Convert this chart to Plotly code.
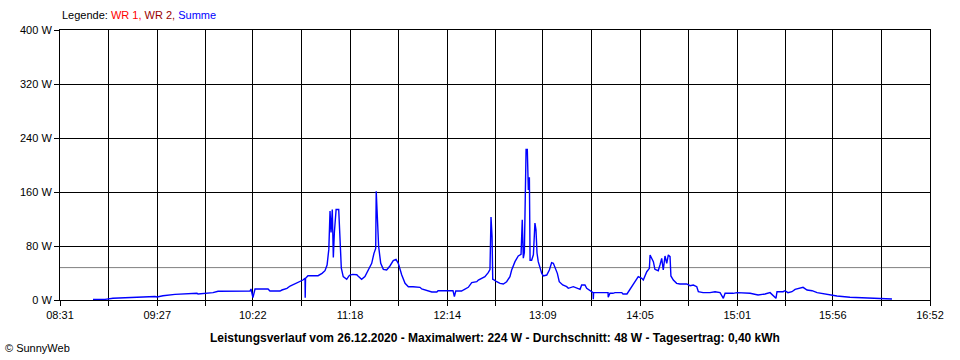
import plotly.graph_objects as go

# --- data (minutes since midnight, watts) ---
summe_min = [
    530.0, 536.9, 541.5, 551.3, 561.1, 565.7, 566.9, 570.3, 577.2, 581.3, 585.9, 589.9, 590.5, 596.2,
    599.1, 602.0, 620.4, 621.0, 622.1, 623.3, 630.8, 631.9, 637.7, 638.8, 641.7, 643.5, 646.3, 649.2,
    650.9, 652.1, 652.2, 652.4, 653.8, 659.6, 661.9, 663.6, 664.8, 665.8, 666.5, 667.1, 667.8, 668.4,
    669.0, 670.0, 671.5, 672.2, 672.6, 673.0, 674.1, 676.1, 677.4, 678.0, 679.5, 681.9, 682.6, 684.7,
    686.6, 688.4, 690.5, 691.8, 692.8, 693.1, 693.7, 694.5, 695.7, 697.2, 699.1, 701.0, 702.9, 704.5,
    705.8, 707.8, 709.7, 711.6, 714.3, 718.3, 719.3, 721.2, 723.1, 725.1, 728.0, 728.7, 737.3, 738.1,
    738.9, 742.3, 743.2, 746.1, 748.1, 751.0, 751.9, 753.8, 755.7, 757.6, 758.6, 759.2, 759.8, 760.2,
    760.5, 762.5, 764.4, 766.3, 768.2, 770.1, 771.1, 773.0, 774.9, 776.5, 777.0, 777.2, 777.8, 778.4,
    779.4, 780.1, 780.7, 781.3, 781.7, 782.6, 783.6, 784.5, 785.1, 785.7, 786.4, 787.4, 788.4, 789.3,
    791.3, 792.8, 794.1, 795.1, 796.1, 797.4, 798.5, 800.5, 802.8, 803.7, 806.6, 810.5, 811.4, 813.3,
    814.3, 815.8, 816.2, 818.0, 818.1, 818.3, 819.1, 826.6, 826.7, 827.7, 829.4, 830.6, 834.5, 835.2,
    837.5, 838.3, 840.2, 842.1, 844.0, 846.0, 846.9, 848.9, 850.4, 850.8, 851.7, 852.7, 853.6, 855.5,
    856.5, 857.5, 858.4, 859.4, 860.4, 861.3, 862.3, 862.8, 864.2, 866.1, 868.0, 871.9, 873.8, 875.7,
    877.7, 878.6, 881.3, 885.3, 888.2, 891.1, 893.0, 894.0, 898.6, 900.9, 908.4, 911.2, 913.0, 917.0,
    919.9, 923.3, 923.9, 927.4, 928.5, 930.2, 932.5, 934.3, 936.0, 938.9, 941.2, 944.1, 947.0, 951.5,
    955.6, 958.4, 965.9, 977.5, 985.0, 990.1,
]
summe_w = [
    1.0, 1.0, 2.5, 4.0, 5.2, 5.2, 4.5, 6.3, 8.4, 8.9, 9.9, 9.9, 8.9, 9.9,
    10.9, 12.9, 13.3, 16.3, 3.5, 16.3, 16.3, 13.3, 13.3, 14.8, 17.3, 20.7, 23.7, 27.1,
    29.6, 32.1, 3.5, 32.1, 36.0, 36.0, 39.5, 43.4, 51.9, 75.0, 131.8, 100.0, 134.0, 63.0,
    100.0, 134.0, 134.0, 100.0, 74.0, 47.0, 34.6, 30.6, 35.6, 37.0, 38.0, 37.5, 35.6, 30.6,
    34.6, 44.4, 54.3, 69.1, 76.5, 161.0, 134.0, 79.0, 54.3, 45.4, 44.4, 50.4, 58.3, 60.3,
    54.3, 37.0, 24.7, 19.7, 19.7, 18.8, 16.3, 14.8, 13.3, 11.9, 11.9, 13.8, 13.8, 4.9,
    13.3, 13.3, 14.8, 18.8, 25.7, 27.1, 29.6, 32.1, 34.6, 40.5, 45.0, 123.0, 94.0, 30.0,
    30.6, 27.1, 24.7, 23.7, 27.1, 34.6, 44.4, 56.8, 65.2, 67.7, 112.0, 119.0, 62.0, 70.0,
    223.0, 223.0, 163.0, 182.0, 59.0, 59.0, 67.0, 114.0, 104.0, 69.6, 56.8, 47.0, 39.5, 35.6,
    37.0, 44.4, 55.3, 54.3, 47.0, 39.5, 27.1, 22.2, 19.7, 17.3, 19.7, 15.8, 22.2, 22.2,
    17.3, 14.8, 13.3, 11.0, 1.0, 11.0, 10.9, 10.9, 4.0, 9.9, 9.9, 10.9, 10.9, 8.9,
    8.9, 12.3, 19.7, 27.1, 34.6, 32.1, 29.6, 41.9, 46.9, 66.7, 61.7, 56.8, 45.4, 43.4,
    51.9, 61.7, 44.4, 65.2, 54.3, 66.7, 64.2, 35.6, 29.6, 24.7, 23.7, 23.7, 21.2, 22.2,
    19.7, 12.3, 10.9, 10.9, 12.3, 10.9, 2.5, 9.9, 9.9, 10.9, 9.9, 8.9, 7.4, 8.9,
    10.9, 2.5, 12.3, 12.3, 13.8, 10.9, 12.3, 15.8, 16.8, 18.8, 14.8, 13.8, 10.9, 8.9,
    7.4, 5.9, 4.0, 3.0, 2.0, 1.5,
]
average_w = 48
x_start_label = "08:31"
x_end_label = "16:52"
tick_labels = ["08:31", "09:27", "10:22", "11:18", "12:14", "13:09", "14:05", "15:01", "15:56", "16:52"]
y_ticks = [0, 80, 160, 240, 320, 400]
title_text = ("Leistungsverlauf vom 26.12.2020 - Maximalwert: 224 W - "
              "Durchschnitt: 48 W - Tagesertrag: 0,40 kWh")


def to_min(s):
    h, m = s.split(":")
    return int(h) * 60 + int(m)


tick_vals = [to_min(s) for s in tick_labels]
minor_vals = [(a + b) / 2 for a, b in zip(tick_vals[:-1], tick_vals[1:])]

FONT = "Liberation Sans, Arial, sans-serif"

fig = go.Figure()
fig.add_trace(go.Scatter(
    x=summe_min, y=summe_w, mode="lines",
    line=dict(color="#0000FF", width=1.4),
    name="Summe", showlegend=False, hoverinfo="skip",
))

fig.add_shape(type="line", xref="paper", x0=0, x1=1, yref="y",
              y0=average_w, y1=average_w,
              line=dict(color="#808080", width=1), layer="between")

fig.update_layout(
    width=960, height=360,
    margin=dict(l=60, r=30, t=30, b=60, autoexpand=False),
    paper_bgcolor="white", plot_bgcolor="white",
    font=dict(family=FONT, size=11, color="black"),
    showlegend=False,
    xaxis=dict(
        range=[to_min(x_start_label), to_min(x_end_label)],
        tickmode="array", tickvals=tick_vals, ticktext=tick_labels,
        showgrid=True, gridcolor="black", gridwidth=1,
        ticks="outside", ticklen=5, tickcolor="black", tickwidth=1,
        showline=True, linecolor="black", linewidth=1, mirror=True,
        zeroline=False, automargin=False,
        minor=dict(tickmode="array", tickvals=minor_vals, showgrid=True,
                   gridcolor="black", gridwidth=1, ticks="outside",
                   ticklen=5, tickcolor="black"),
        tickfont=dict(family=FONT, size=11, color="black"),
        fixedrange=True,
    ),
    yaxis=dict(
        range=[0, 400],
        tickmode="array", tickvals=y_ticks,
        ticktext=[f"{v} W" for v in y_ticks],
        showgrid=True, gridcolor="black", gridwidth=1,
        ticks="outside", ticklen=5, tickcolor="black", tickwidth=1,
        showline=True, linecolor="black", linewidth=1, mirror=True,
        zeroline=False, automargin=False,
        tickfont=dict(family=FONT, size=11, color="black"),
        fixedrange=True,
    ),
)

fig.add_annotation(
    xref="paper", yref="paper", x=0, y=1, xanchor="left", yanchor="bottom",
    yshift=7, showarrow=False,
    text=("Legende: <span style='color:#FF0000'>WR 1,</span> "
          "<span style='color:#990000'>WR 2,</span> "
          "<span style='color:#0000FF'>Summe</span>"),
    font=dict(family=FONT, size=11, color="black"),
)
fig.add_annotation(
    xref="paper", yref="paper", x=0.5, y=0, xanchor="center", yanchor="top",
    yshift=-29, showarrow=False,
    text="<b>" + title_text + "</b>",
    font=dict(family=FONT, size=12, color="black"),
)
fig.add_annotation(
    xref="paper", yref="paper", x=-60 / 870, y=0, xanchor="left", yanchor="top",
    xshift=3, yshift=-40, showarrow=False,
    text="© SunnyWeb",
    font=dict(family=FONT, size=11, color="black"),
)

fig.write_html(
    "out.html",
    config={"displayModeBar": False},
    post_script="document.body.style.margin='0';document.body.style.overflow='hidden';",
)
